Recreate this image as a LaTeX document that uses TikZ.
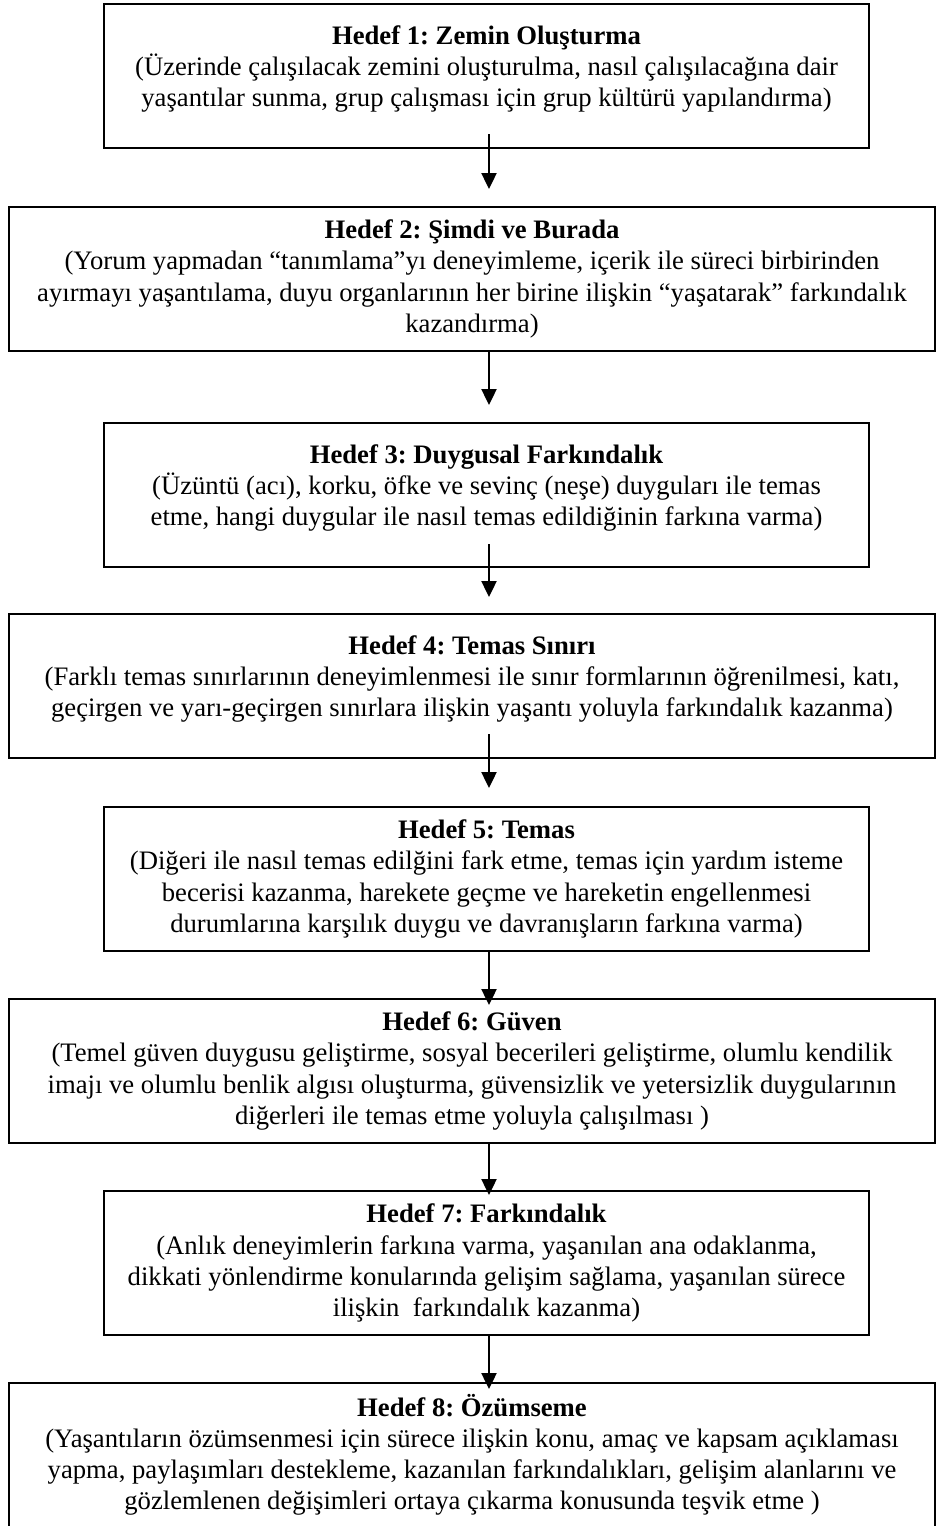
\documentclass[tikz,border=0pt]{standalone}
\usepackage{fontspec}
\setmainfont{Liberation Serif}
\frenchspacing
\usetikzlibrary{arrows.meta}
\tikzstyle{goal} = [
    draw=black,
    line width=0.9pt,
    anchor=north,
    align=center,
    minimum height=64.8pt,
    inner sep=2pt,
    font=\fontsize{12}{14}\selectfont
]
\tikzstyle{narrowgoal} = [goal, minimum width=344.25pt]
\tikzstyle{widegoal} = [goal, minimum width=416.7pt]
\tikzstyle{flow} = [
    -{Triangle[width=6.8pt,length=7.2pt]},
    line width=0.9pt
]

\begin{document}
\begin{tikzpicture}[x=0.45pt, y=-0.45pt]
        \useasboundingbox (0,0) rectangle (936,1526);
        \coordinate (ax) at (489,0);

        % Hedef 1-8
        \node[narrowgoal] (h1) at (486.5,3) {\textbf{Hedef 1: Zemin Oluşturma}\\
            (Üzerinde çalışılacak zemini oluşturulma, nasıl çalışılacağına dair\\
            yaşantılar sunma, grup çalışması için grup kültürü yapılandırma)\\[-9pt] \strut};
        \node[widegoal] (h2) at (472,206) {\textbf{Hedef 2: Şimdi ve Burada}\\
            (Yorum yapmadan “tanımlama”yı deneyimleme, içerik ile süreci birbirinden\\
            ayırmayı yaşantılama, duyu organlarının her birine ilişkin “yaşatarak” farkındalık\\
            kazandırma)};
        \node[narrowgoal] (h3) at (486.5,422) {\textbf{Hedef 3: Duygusal Farkındalık}\\
            (Üzüntü (acı), korku, öfke ve sevinç (neşe) duyguları ile temas\\
            etme, hangi duygular ile nasıl temas edildiğinin farkına varma)\\[-9pt] \strut};
        \node[widegoal] (h4) at (472,613) {\textbf{Hedef 4: Temas Sınırı}\\
            (Farklı temas sınırlarının deneyimlenmesi ile sınır formlarının öğrenilmesi, katı,\\
            geçirgen ve yarı-geçirgen sınırlara ilişkin yaşantı yoluyla farkındalık kazanma)\\[-9pt] \strut};
        \node[narrowgoal] (h5) at (486.5,806) {\textbf{Hedef 5: Temas}\\
            (Diğeri ile nasıl temas edilğini fark etme, temas için yardım isteme\\
            becerisi kazanma, harekete geçme ve hareketin engellenmesi\\
            durumlarına karşılık duygu ve davranışların farkına varma)};
        \node[widegoal] (h6) at (472,998) {\textbf{Hedef 6: Güven}\\
            (Temel güven duygusu geliştirme, sosyal becerileri geliştirme, olumlu kendilik\\
            imajı ve olumlu benlik algısı oluşturma, güvensizlik ve yetersizlik duygularının\\
            diğerleri ile temas etme yoluyla çalışılması )};
        \node[narrowgoal] (h7) at (486.5,1190) {\textbf{Hedef 7: Farkındalık}\\
            (Anlık deneyimlerin farkına varma, yaşanılan ana odaklanma,\\
            dikkati yönlendirme konularında gelişim sağlama, yaşanılan sürece\\
            ilişkin\ \ farkındalık kazanma)};
        \node[widegoal] (h8) at (472,1382) {\textbf{Hedef 8: Özümseme}\\
            (Yaşantıların özümsenmesi için sürece ilişkin konu, amaç ve kapsam açıklaması\\
            yapma, paylaşımları destekleme, kazanılan farkındalıkları, gelişim alanlarını ve\\
            gözlemlenen değişimleri ortaya çıkarma konusunda teşvik etme )};

        % Oklar
        \draw[flow, shorten <=-6.75pt, shorten >=7.65pt] (h1.south -| ax) -- (h2.north -| ax);
        \draw[flow, shorten >=7.65pt] (h2.south -| ax) -- (h3.north -| ax);
        \draw[flow, shorten <=-10.8pt, shorten >=7.2pt] (h3.south -| ax) -- (h4.north -| ax);
        \draw[flow, shorten <=-11.25pt, shorten >=8.1pt] (h4.south -| ax) -- (h5.north -| ax);
        \draw[flow, shorten >=-3.15pt] (h5.south -| ax) -- (h6.north -| ax);
        \draw[flow, shorten >=-2.25pt] (h6.south -| ax) -- (h7.north -| ax);
        \draw[flow, shorten >=-3.15pt] (h7.south -| ax) -- (h8.north -| ax);
    \end{tikzpicture}
\end{document}
